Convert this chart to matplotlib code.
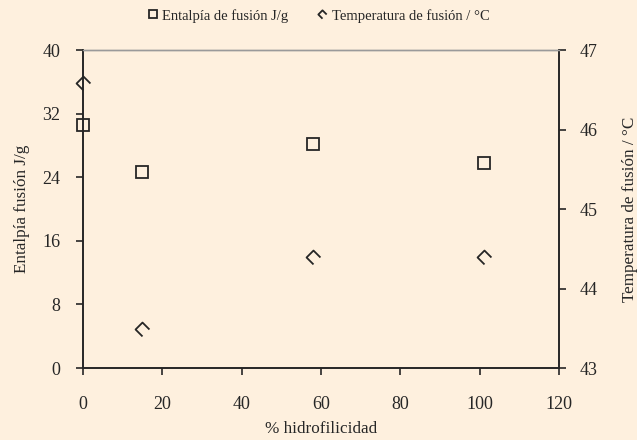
import matplotlib
matplotlib.use("Agg")
import matplotlib.pyplot as plt
from matplotlib.path import Path

# Data
hidrofilicidad = [0, 15, 58, 101]
entalpia = [30.6, 24.7, 28.2, 25.8]
temperatura = [46.58, 43.49, 44.40, 44.40]

plt.rcParams['font.family'] = ['Liberation Serif', 'DejaVu Serif']
bg = '#FEF0DE'
ink = '#262626'

# open diamond missing its lower-right side
half_diamond = Path([(0, -1), (-1, 0), (0, 1), (1, 0)],
                    [Path.MOVETO, Path.LINETO, Path.LINETO, Path.LINETO])

fig = plt.figure(figsize=(6.37, 4.4), dpi=100, facecolor=bg)
ax = fig.add_axes([0.130, 0.1636, 0.748, 0.7227])
ax.set_facecolor(bg)
ax2 = ax.twinx()

h1, = ax.plot(hidrofilicidad, entalpia, linestyle='none', marker='s',
              markersize=9, markerfacecolor='none', markeredgecolor=ink,
              markeredgewidth=1.3, label='Entalpía de fusión J/g', clip_on=False)
h2, = ax2.plot(hidrofilicidad, temperatura, linestyle='none', marker=half_diamond,
               markersize=10, markerfacecolor='none', markeredgecolor=ink,
               markeredgewidth=1.3, label='Temperatura de fusión / °C', clip_on=False)

ax.set_xlim(0, 120)
ax.set_ylim(0, 40)
ax.set_xticks(range(0, 121, 20))
ax.set_yticks(range(0, 41, 8))
ax2.set_ylim(43, 47)
ax2.set_yticks([43, 44, 45, 46, 47])

for a in (ax, ax2):
    for s in a.spines.values():
        s.set_color(ink)
        s.set_linewidth(1.2)
    a.spines['top'].set_color('#9A9A9A')
    a.spines['top'].set_linewidth(1.0)
    a.tick_params(direction='out', length=5, width=1.2, color=ink,
                  labelsize=13, labelcolor=ink)
ax.tick_params(axis='x', pad=15)
ax.tick_params(axis='y', pad=11)
ax2.tick_params(axis='y', pad=10)

ax.set_xlabel('% hidrofilicidad', fontsize=12.3, color=ink, labelpad=6)
ax.set_ylabel('Entalpía fusión J/g', fontsize=12.3, color=ink, labelpad=9)
ax2.set_ylabel('Temperatura de fusión / °C', fontsize=12.3, color=ink, labelpad=17)

fig.legend(handles=[h1, h2], loc='upper center', bbox_to_anchor=(0.5, 1.01),
           ncol=2, frameon=False, fontsize=10.5, markerscale=0.6,
           handlelength=0.7, handletextpad=0.3, columnspacing=2.0,
           labelcolor=ink)

fig.savefig('out.png', dpi=100, facecolor=bg)
